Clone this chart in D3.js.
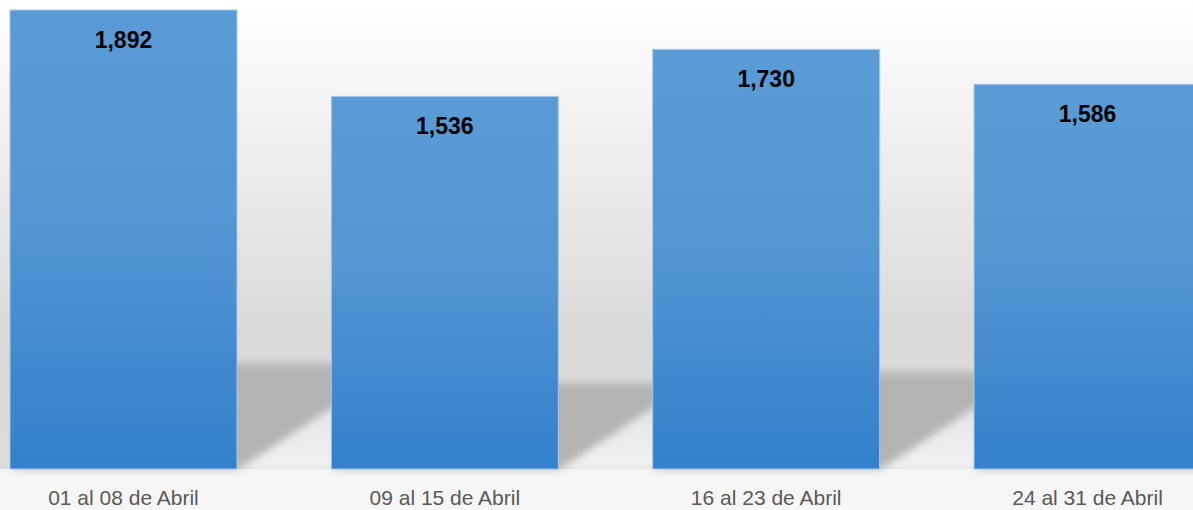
<!DOCTYPE html>
<html>
<head>
<meta charset="utf-8">
<script src="https://cdn.jsdelivr.net/npm/d3@7"></script>
<style>
  html, body { margin: 0; padding: 0; background: #f6f6f6; overflow: hidden; }
  #chart { width: 1193px; height: 510px; }
</style>
</head>
<body>
<div id="chart"></div>
<script>
const categories = ['01 al 08 de Abril', '09 al 15 de Abril', '16 al 23 de Abril', '24 al 31 de Abril'];
const values = [1892, 1536, 1730, 1586];

function createBarChart() {
    const container = d3.select('#chart');
    const width = 1193;
    const height = 510;
    const baseY = 469;

    const svg = container.append('svg')
        .attr('width', width)
        .attr('height', height);

    const defs = svg.append('defs');

    const wall = defs.append('linearGradient')
        .attr('id', 'wall')
        .attr('gradientUnits', 'userSpaceOnUse')
        .attr('x1', 0).attr('y1', 0).attr('x2', 0).attr('y2', baseY);
    wall.append('stop').attr('offset', '0%').attr('stop-color', '#ffffff');
    wall.append('stop').attr('offset', '70%').attr('stop-color', '#dadada');
    wall.append('stop').attr('offset', '100%').attr('stop-color', '#dcdcdc');

    const floor = defs.append('linearGradient')
        .attr('id', 'floor')
        .attr('gradientUnits', 'userSpaceOnUse')
        .attr('x1', 0).attr('y1', 400).attr('x2', 0).attr('y2', baseY);
    floor.append('stop').attr('offset', '0%').attr('stop-color', '#e4e4e4');
    floor.append('stop').attr('offset', '100%').attr('stop-color', '#f1f1f1');

    const barGrad = defs.append('linearGradient')
        .attr('id', 'bar-grad')
        .attr('x1', 0).attr('y1', 0).attr('x2', 0).attr('y2', 1);
    barGrad.append('stop').attr('offset', '0%').attr('stop-color', '#5b9bd5');
    barGrad.append('stop').attr('offset', '45%').attr('stop-color', '#5596d3');
    barGrad.append('stop').attr('offset', '100%').attr('stop-color', '#3380cb');

    defs.append('filter')
        .attr('id', 'soft')
        .attr('x', '-20%').attr('y', '-20%').attr('width', '140%').attr('height', '140%')
        .append('feGaussianBlur')
        .attr('stdDeviation', 3);

    defs.append('filter')
        .attr('id', 'softer')
        .attr('x', '-20%').attr('y', '-30%').attr('width', '140%').attr('height', '160%')
        .append('feGaussianBlur')
        .attr('stdDeviation', 4);

    // background: wall and floor strip
    svg.append('rect')
        .attr('width', width).attr('height', baseY)
        .attr('fill', 'url(#wall)');
    svg.append('rect')
        .attr('y', baseY).attr('width', width).attr('height', height - baseY)
        .attr('fill', '#f6f6f6');

    const x = d3.scaleBand()
        .domain(categories)
        .range([-37.2, 1248.2])
        .paddingInner(0.2936)
        .paddingOuter(0.1468);

    const y = d3.scaleLinear()
        .domain([0, d3.max(values)])
        .range([baseY, 10]);

    const data = categories.map((c, i) => ({ category: c, value: values[i] }));

    const slope = 1.53;
    const shadowRatio = 0.23;

    // light floor patch to the lower right of each bar
    svg.selectAll('.floor')
        .data(data)
        .enter()
        .append('polygon')
        .attr('class', 'floor')
        .attr('fill', 'url(#floor)')
        .attr('filter', 'url(#soft)')
        .attr('points', d => {
            const x1 = x(d.category) + x.bandwidth();
            const w = 220;
            return [[x1, baseY], [x1 + w, baseY - w / slope], [x1 + w, baseY]].join(' ');
        });

    // perspective shadows
    svg.selectAll('.shadow')
        .data(data)
        .enter()
        .append('polygon')
        .attr('class', 'shadow')
        .attr('fill', '#b3b3b3')
        .attr('filter', 'url(#softer)')
        .attr('points', d => {
            const x0 = x(d.category);
            const x1 = x0 + x.bandwidth();
            const sh = shadowRatio * (baseY - y(d.value));
            const dx = slope * sh;
            return [[x0, baseY], [x1, baseY], [x1 + dx, baseY - sh], [x0 + dx, baseY - sh]].join(' ');
        });

    svg.selectAll('.bar')
        .data(data)
        .enter()
        .append('rect')
        .attr('class', 'bar')
        .attr('x', d => x(d.category))
        .attr('y', d => y(d.value))
        .attr('width', x.bandwidth())
        .attr('height', d => baseY - y(d.value))
        .attr('fill', 'url(#bar-grad)')
        .attr('stroke', '#a7c8ea')
        .attr('stroke-width', 1);

    svg.selectAll('.value')
        .data(data)
        .enter()
        .append('text')
        .attr('class', 'value')
        .attr('x', d => x(d.category) + x.bandwidth() / 2)
        .attr('y', d => y(d.value) + 38)
        .attr('text-anchor', 'middle')
        .style('font-family', '"Liberation Sans", Arial, sans-serif')
        .style('font-size', '23px')
        .style('font-weight', 'bold')
        .style('fill', '#000')
        .text(d => d3.format(',')(d.value));

    svg.selectAll('.cat')
        .data(data)
        .enter()
        .append('text')
        .attr('class', 'cat')
        .attr('x', d => x(d.category) + x.bandwidth() / 2)
        .attr('y', 505)
        .attr('text-anchor', 'middle')
        .style('font-family', '"Liberation Sans", Arial, sans-serif')
        .style('font-size', '21px')
        .style('fill', '#595959')
        .text(d => d.category);
}

createBarChart();
</script>
</body>
</html>
